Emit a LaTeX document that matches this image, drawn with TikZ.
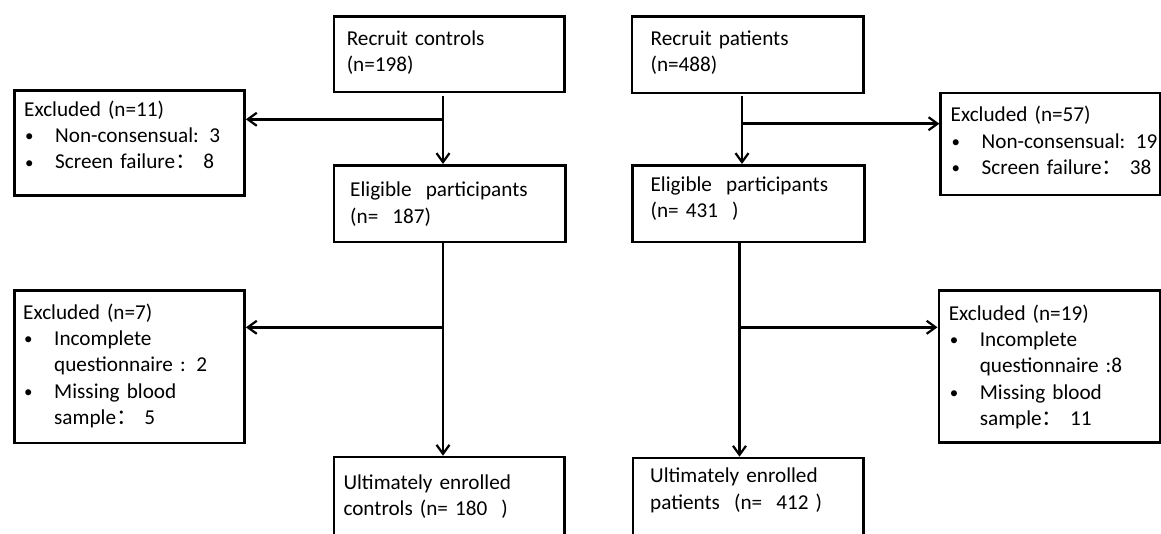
\documentclass[tikz,border=0pt]{standalone}
\usepackage{fontspec}
\usepackage{graphicx}
\setmainfont{Carlito}
\newfontfamily\cjk{Noto Sans CJK SC}
\usetikzlibrary{arrows.meta}
\setlength{\parskip}{0pt}
\newcommand\fcolon{{\cjk ：}\ }
\newcommand\fs{\fontsize{21.2pt}{26.4pt}\selectfont}
\newcommand\bitem[1]{\par\hangindent=31pt\hangafter=1\noindent\makebox[31pt][l]{\hspace{1pt}\raisebox{0.8pt}{\scalebox{0.8}{•}}}#1\par}
\tikzset{
  box/.style={draw, line width=2.5pt, anchor=north west, inner sep=0pt},
  txt/.style={anchor=north west, inner sep=0pt, text width=240pt, align=left, font=\fs},
  arr/.style={line width=2.5pt, -{Straight Barb[length=9pt,width=13pt,line width=2.2pt]}},
}
\begin{document}
\begin{tikzpicture}[x=1pt,y=-1pt]
\useasboundingbox (0,0) rectangle (1161,533);
\clip (0,0) rectangle (1161,533);
% left column boxes
\node[box, minimum width=230.4pt, minimum height=75.7pt]  (rc)  at (332.6,15)   {};
\node[box, minimum width=230.4pt, minimum height=105pt]   (ex1) at (13,89.3)    {};
\node[box, minimum width=231.4pt, minimum height=76.7pt]  (el)  at (332.6,164)  {};
\node[box, minimum width=230.4pt, minimum height=152.7pt] (ex2) at (13,289)     {};
\node[box, minimum width=230.4pt, minimum height=90pt]    (uc)  at (332.6,455.7){};
% right column boxes
\node[box, minimum width=231.5pt, minimum height=76.7pt]  (rp)  at (630.8,15)   {};
\node[box, minimum width=219.6pt, minimum height=101.8pt] (ex3) at (939.4,91.7) {};
\node[box, minimum width=232pt,   minimum height=76.7pt]  (er)  at (631,164)    {};
\node[box, minimum width=221.5pt, minimum height=152pt]   (ex4) at (937.5,289)  {};
\node[box, minimum width=230.4pt, minimum height=90pt]    (up)  at (631.9,456.7){};
% texts
\node[txt] (rct)  at (346.6,26.5)  {\strut Recruit controls\\(n=198)};
\node[txt] (ex1t) at (24,97.5)     {\strut Excluded (n=11)\bitem{Non-consensual: 3}\bitem{Screen failure\fcolon 8}};
\node[txt] (elt)  at (350,178.2)   {\strut Eligible\ \ participants\\(n=\ \ 187)};
\node[txt] (ex2t) at (23,300.5)    {\strut Excluded (n=7)\bitem{Incomplete\newline questionnaire : 2}\bitem{Missing blood\newline sample\fcolon 5}};
\node[txt] (uct)  at (343.3,470.5) {\strut Ultimately enrolled\\controls (n= 180\ \ )};
\node[txt] (rpt)  at (650.4,26.5)  {\strut Recruit patients\\(n=488)};
\node[txt] (ex3t) at (950.5,103)   {\strut Excluded (n=57)\bitem{Non-consensual: 19}\bitem{Screen failure\fcolon 38}};
\node[txt] (ert)  at (650.4,172.5) {\strut Eligible\ \ participants\\(n= 431\ \ )};
\node[txt] (ex4t) at (948.6,301.5) {\strut Excluded (n=19)\bitem{Incomplete\newline questionnaire :8}\bitem{Missing blood\newline sample\fcolon 11}};
\node[txt] (upt)  at (650,464.2)   {\strut Ultimately enrolled\\patients\ \ (n=\ \ 412 )};
% connectors left
\coordinate (a1) at (443,96);
\coordinate (b1) at (443,119.3);
\coordinate (a2) at (443,240.7);
\coordinate (b2) at (443,327.3);
\draw[arr] (a1) -- (a1 |- el.north);
\draw[arr] (b1) -- (b1 -| ex1.east);
\draw[arr] (el.south -| a2) -- (uc.north -| a2);
\draw[arr] (b2) -- (b2 -| ex2.east);
% connectors right
\coordinate (a3) at (742,96);
\coordinate (b3) at (742,123.7);
\coordinate (a4) at (739.5,240.7);
\coordinate (b4) at (739.5,327.3);
\draw[arr] (a3) -- (a3 |- er.north);
\draw[arr] (b3) -- (b3 -| ex3.west);
\draw[arr] (er.south -| a4) -- (up.north -| a4);
\draw[arr] (b4) -- (b4 -| ex4.west);
\end{tikzpicture}
\end{document}
